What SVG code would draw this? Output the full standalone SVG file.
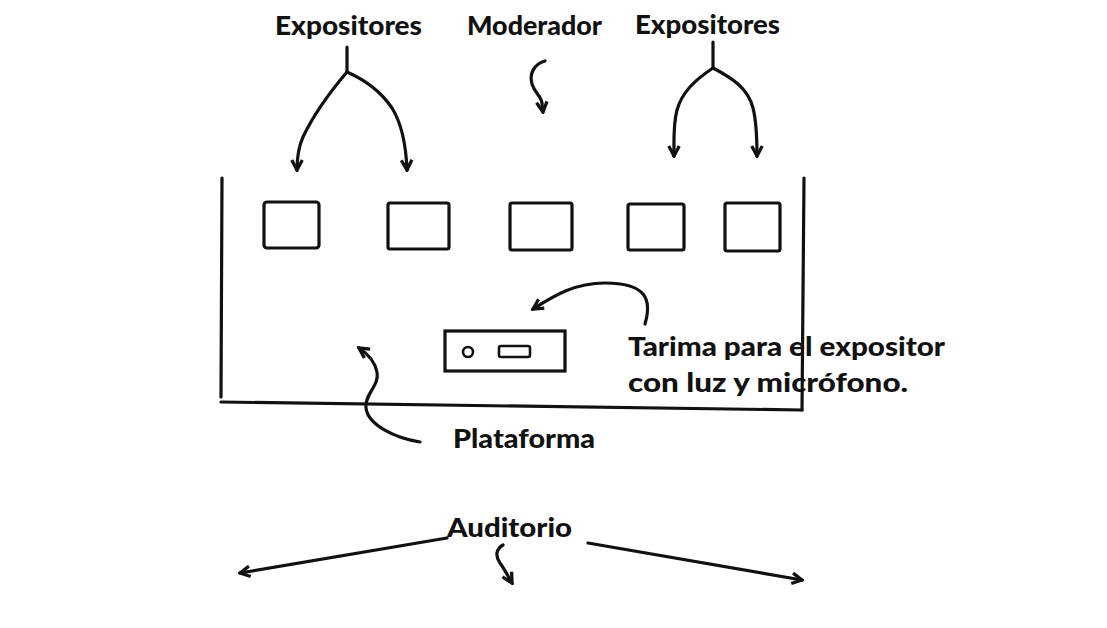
<svg xmlns="http://www.w3.org/2000/svg" width="1107" height="628" viewBox="0 0 1107 628">
<style>
.lbl{font-family:Lato,"Liberation Sans",sans-serif;font-weight:900;fill:#111;font-size:26px}
.ln{fill:none;stroke:#111;stroke-width:3.2;stroke-linecap:round;stroke-linejoin:round}
.box{fill:none;stroke:#111;stroke-width:3.2}
</style>
<defs>
<marker id="ah" viewBox="0 0 12 12" refX="10" refY="6" markerWidth="4.4" markerHeight="4.4" orient="auto" markerUnits="strokeWidth">
<path d="M1.5,1.5 L10,6 L1.5,10.5" fill="none" stroke="#111" stroke-width="2.8" stroke-linejoin="miter"/>
</marker>
</defs>
<rect width="1107" height="628" fill="#fff"/>

<g id="platform">
<path class="ln" d="M222,178 L221,397"/>
<path class="ln" d="M804,178 L802,410"/>
<path class="ln" d="M221,402 L802,410"/>
</g>

<g id="seat1"><rect class="box" x="264" y="202" width="55" height="46" rx="3"/></g>
<g id="seat2"><rect class="box" x="388" y="203" width="61" height="46" rx="2"/></g>
<g id="seat3"><rect class="box" x="510" y="203" width="62" height="47" rx="2"/></g>
<g id="seat4"><rect class="box" x="628" y="204" width="56" height="46" rx="2"/></g>
<g id="seat5"><rect class="box" x="725" y="203" width="55" height="48" rx="2"/></g>

<g id="tarima">
<rect class="box" x="445" y="331" width="120" height="40" stroke-width="2.8"/>
<circle cx="468" cy="352" r="5" fill="none" stroke="#111" stroke-width="2.6"/>
<rect x="499" y="346" width="31" height="11" rx="2" fill="none" stroke="#111" stroke-width="2.6"/>
</g>

<g id="labels">
<text class="lbl" x="275" y="35" textLength="147" lengthAdjust="spacingAndGlyphs">Expositores</text>
<text class="lbl" x="467" y="35" textLength="135" lengthAdjust="spacingAndGlyphs">Moderador</text>
<text class="lbl" x="635" y="34" textLength="145" lengthAdjust="spacingAndGlyphs">Expositores</text>
<text class="lbl" x="628" y="356" font-size="27" textLength="317" lengthAdjust="spacingAndGlyphs">Tarima para el expositor</text>
<text class="lbl" x="628" y="392" font-size="27" textLength="280" lengthAdjust="spacingAndGlyphs">con luz y micrófono.</text>
<text class="lbl" x="453" y="448" textLength="142" lengthAdjust="spacingAndGlyphs">Plataforma</text>
<text class="lbl" x="447" y="537" textLength="125" lengthAdjust="spacingAndGlyphs">Auditorio</text>
</g>

<g id="connectors">
<path class="ln" d="M347,47 L347,72"/>
<path class="ln" marker-end="url(#ah)" d="M347,72 C330,92 312,118 303,137 C298,148 297,158 297,170"/>
<path class="ln" marker-end="url(#ah)" d="M347,72 C365,80 380,90 392,108 C402,124 406,145 407,170"/>
<path class="ln" d="M713,42 L713,68"/>
<path class="ln" marker-end="url(#ah)" d="M713,68 C695,80 682,92 677,110 C673,125 674,140 674,156"/>
<path class="ln" marker-end="url(#ah)" d="M713,68 C732,78 748,88 753,108 C757,124 757,140 757,156"/>
<path class="ln" marker-end="url(#ah)" d="M545,61 C534,64 529,74 532,84 C535,94 542,96 542,104 L543,112"/>
<path class="ln" marker-end="url(#ah)" d="M645,324 C652,300 647,283 605,283 C575,283 555,295 533,309"/>
<path class="ln" marker-end="url(#ah)" d="M420,442 C395,438 368,425 366,408 C364,395 380,385 377,372 C375,362 368,354 359,348"/>
<path class="ln" marker-end="url(#ah)" d="M447,538 L240,573"/>
<path class="ln" marker-end="url(#ah)" d="M588,543 L802,580"/>
<path class="ln" marker-end="url(#ah)" d="M503,545 C496,549 495,556 500,563 C505,570 508,576 512,583"/>
</g>
</svg>
